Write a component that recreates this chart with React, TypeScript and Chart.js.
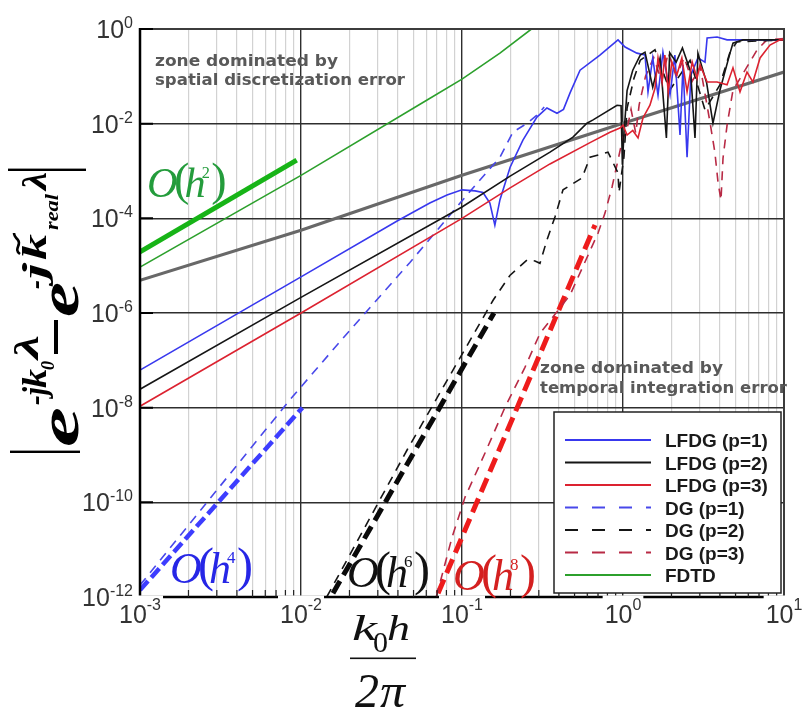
import React, { useEffect, useRef } from 'react';
import { Chart, registerables } from 'chart.js';

Chart.register(...registerables);

// Normalised frequency k0h/2π (x) and phase-error magnitude (y) for each scheme.
const lfdg1X = [0.001, 0.01, 0.0398, 0.0631, 0.0807, 0.1, 0.1205, 0.135, 0.149, 0.16, 0.172, 0.199, 0.239, 0.292, 0.337, 0.389, 0.427, 0.469, 0.541, 0.719, 0.931, 1.03, 1.22, 1.37, 1.43, 1.53, 1.65, 1.77, 1.96, 2.1, 2.26, 2.36, 2.5, 2.64, 2.92, 3.23, 3.33, 3.84, 4.43, 10];
const lfdg1Y = [6.2e-8, 5.8e-6, 8.9e-5, 2.1e-4, 3.1e-4, 4.0e-4, 3.8e-4, 3.5e-4, 2.1e-4, 7.2e-5, 2.45e-4, 1.2e-3, 4.5e-3, 0.0138, 0.0214, 0.0166, 0.02, 0.0447, 0.135, 0.282, 0.589, 0.417, 0.309, 0.282, 0.047, 0.245, 0.04, 0.324, 0.041, 0.282, 5.8e-3, 0.174, 1.95e-3, 0.107, 0.245, 0.2, 0.646, 0.676, 0.589, 0.589];

const lfdg2X = [0.001, 0.01, 0.1, 0.199, 0.352, 0.489, 0.597, 0.652, 0.918, 0.973, 0.991, 1.014, 1.06, 1.15, 1.28, 1.37, 1.53, 1.7, 1.86, 1.95, 2.14, 2.34, 2.63, 2.8, 2.92, 3.31, 3.62, 4.0, 4.62, 4.82, 5.56, 10];
const lfdg2Y = [2.45e-8, 2.14e-6, 1.74e-4, 7.8e-4, 2.5e-3, 5.2e-3, 0.0102, 0.012, 0.0245, 0.024, 1.35e-3, 6.3e-3, 0.05, 0.135, 0.282, 0.324, 0.059, 0.245, 5.0e-3, 0.316, 0.2, 0.398, 0.126, 5.0e-3, 0.309, 0.072, 0.0102, 0.051, 0.309, 0.5, 0.589, 0.589];

const lfdg3X = [0.001, 0.01, 0.1, 0.199, 0.352, 0.624, 0.83, 0.957, 1.0, 1.06, 1.15, 1.24, 1.33, 1.47, 1.58, 1.65, 1.75, 1.82, 1.91, 2.01, 2.16, 2.32, 2.5, 2.69, 2.88, 3.01, 3.33, 3.84, 4.43, 4.82, 5.33, 5.89, 6.41, 7.1, 8.18, 9.44, 10];
const lfdg3Y = [1.07e-8, 1.0e-6, 1.0e-4, 4.4e-4, 1.41e-3, 3.98e-3, 6.6e-3, 8.1e-3, 9.3e-3, 5.75e-3, 7.2e-3, 5.0e-3, 0.0132, 0.0245, 0.056, 0.245, 0.076, 0.282, 0.047, 0.2, 0.107, 0.245, 0.047, 0.2, 0.091, 0.174, 0.076, 0.076, 0.066, 0.151, 0.047, 0.123, 0.076, 0.245, 0.457, 0.589, 0.589];

const dg1X = [0.001, 0.00851, 0.01824, 0.0475, 0.0973, 0.124, 0.172, 0.207, 0.254, 0.292, 0.324];
const dg1Y = [1.78e-12, 1.45e-8, 2.95e-7, 1.17e-5, 2.1e-4, 5.5e-4, 1.95e-3, 6.6e-3, 0.0102, 0.0151, 0.0224];

const dg2X = [0.01445, 0.0455, 0.156, 0.199, 0.254, 0.284, 0.305, 0.337, 0.378, 0.424, 0.556, 0.624, 0.807, 0.931, 0.944, 1.014, 1.06, 1.17, 1.28, 1.58, 1.95, 2.61, 3.23, 4.0, 4.62, 5.1, 10];
const dg2Y = [1.0e-12, 1.26e-9, 1.86e-6, 6.3e-6, 1.32e-5, 1.26e-5, 1.12e-5, 3.5e-5, 1.07e-4, 4.0e-4, 7.1e-4, 1.95e-3, 2.5e-3, 9.1e-4, 3.5e-4, 2.0e-3, 0.0214, 0.091, 0.219, 0.363, 0.051, 0.219, 0.0195, 0.066, 0.324, 0.537, 0.589];

const dg3X = [0.0692, 0.0867, 0.1045, 0.139, 0.185, 0.246, 0.305, 0.469, 0.7, 0.773, 0.855, 0.931, 1.0, 1.047, 1.122, 1.2, 1.26, 1.38, 1.55, 1.74, 1.91, 2.14, 2.4, 2.69, 3.02, 3.47, 3.72, 3.89, 4.06, 4.18, 4.43, 4.82, 5.89, 6.81, 7.83, 10];
const dg3Y = [1.0e-12, 1.82e-11, 1.29e-10, 1.1e-9, 1.02e-8, 7.1e-8, 3.7e-7, 2.4e-6, 4.9e-5, 1.29e-4, 4.6e-4, 1.7e-3, 5.2e-3, 6.3e-3, 0.02, 6.3e-3, 0.025, 0.1, 0.25, 0.079, 0.316, 0.1, 0.25, 0.079, 0.158, 0.0107, 2.5e-3, 5.9e-4, 2.4e-4, 1.86e-3, 9.3e-3, 0.051, 0.158, 0.363, 0.589, 0.63];

const fdtdX = [0.001, 0.01, 0.0607, 0.1, 0.172, 0.27, 0.32];
const fdtdY = [9.3e-6, 8.1e-4, 0.0316, 0.087, 0.31, 1.0, 1.5];

// Boundary between the spatial and temporal error zones.
const boundaryX = [0.001, 0.01, 0.1, 1, 10];
const boundaryY = [4.9e-6, 5.6e-5, 8.1e-4, 1.02e-2, 0.123];

// Convergence-order guide lines.
const h2X = [0.001, 0.0094];
const h2Y = [1.95e-5, 1.7e-3];
const h4X = [0.001, 0.0102];
const h4Y = [1.4e-12, 1.0e-8];
const h6X = [0.0158, 0.158];
const h6Y = [1.2e-12, 1.0e-6];
const h8X = [0.071, 0.67];
const h8Y = [1.2e-12, 7.2e-5];

// Axis decades (exponents) and minor multipliers.
const X_DECADES = [-3, -2, -1, 0, 1];
const Y_DECADES = [-12, -10, -8, -6, -4, -2, 0];
const MINOR_STEPS = [2, 3, 4, 5, 6, 7, 8, 9];

const LEGEND_ORDER = ['LFDG (p=1)', 'LFDG (p=2)', 'LFDG (p=3)', 'DG (p=1)', 'DG (p=2)', 'DG (p=3)', 'FDTD'];

const SANS = '"Liberation Sans", Arial, sans-serif';
const SERIF = '"Liberation Serif", "Times New Roman", serif';
const ZONE_FONT = 'bold 15px "DejaVu Sans", sans-serif';

const pts = (xs: number[], ys: number[]) => xs.map((x, i) => ({ x, y: ys[i] }));

const isDecade = (v: number) => {
  const l = Math.log10(v);
  return Math.abs(l - Math.round(l)) < 1e-6;
};

function fitText(ctx: CanvasRenderingContext2D, text: string, x: number, y: number, w: number, font: string) {
  ctx.font = font;
  const m = ctx.measureText(text).width || 1;
  ctx.save();
  ctx.translate(x, y);
  ctx.scale(w / m, 1);
  ctx.fillText(text, 0, 0);
  ctx.restore();
}

function orderLabel(ctx: CanvasRenderingContext2D, x: number, base: number, exp: string, color: string, s: number) {
  ctx.save();
  ctx.translate(x, base);
  ctx.scale(s, s);
  ctx.fillStyle = color;
  ctx.textAlign = 'left';
  ctx.font = `italic 44px ${SERIF}`;
  ctx.fillText('O', 0, 0);
  ctx.font = `48px ${SERIF}`;
  ctx.fillText('(', 28, -2);
  ctx.font = `italic 44px ${SERIF}`;
  ctx.fillText('h', 39, 0);
  ctx.font = `17px ${SERIF}`;
  ctx.fillText(exp, 57, -20);
  ctx.font = `48px ${SERIF}`;
  ctx.fillText(')', 67, -2);
  ctx.restore();
}

const overlay = {
  id: 'overlay',
  afterDraw(chart: any) {
    const ctx: CanvasRenderingContext2D = chart.ctx;
    const xs = chart.scales.x;
    const ys = chart.scales.y;
    const { left: L, right: R, top: T, bottom: B } = chart.chartArea;
    ctx.save();

    // frame
    ctx.strokeStyle = '#3c3c3c';
    ctx.lineWidth = 2;
    ctx.beginPath();
    ctx.moveTo(L, T);
    ctx.lineTo(R, T);
    ctx.lineTo(R, B);
    ctx.stroke();
    ctx.strokeStyle = '#000';
    ctx.lineWidth = 2.5;
    ctx.beginPath();
    ctx.moveTo(L, T - 1);
    ctx.lineTo(L, B);
    ctx.lineTo(R, B);
    ctx.stroke();

    // minor ticks on the bottom axis
    ctx.lineWidth = 1.2;
    ctx.strokeStyle = '#222';
    ctx.beginPath();
    for (const e of X_DECADES.slice(0, -1)) {
      for (const m of MINOR_STEPS) {
        const px = xs.getPixelForValue(m * Math.pow(10, e));
        ctx.moveTo(px, B);
        ctx.lineTo(px, B - 7);
      }
    }
    ctx.stroke();

    // major ticks on the left axis
    ctx.lineWidth = 2;
    ctx.strokeStyle = '#000';
    ctx.beginPath();
    for (const e of Y_DECADES) {
      const py = ys.getPixelForValue(Math.pow(10, e));
      ctx.moveTo(L, py);
      ctx.lineTo(L + 13, py);
    }
    ctx.stroke();

    // x tick labels
    ctx.textAlign = 'left';
    ctx.textBaseline = 'alphabetic';
    for (const e of X_DECADES) {
      const px = xs.getPixelForValue(Math.pow(10, e));
      const ex = e < 0 ? '-' + -e : String(e);
      ctx.font = `25px ${SANS}`;
      const wb = ctx.measureText('10').width;
      ctx.font = `16px ${SANS}`;
      const we = ctx.measureText(ex).width;
      const x0 = px - (wb + we) / 2;
      ctx.fillStyle = '#fff';
      ctx.fillRect(x0 - 2, B - 1.5, wb + we + 4, 32);
      ctx.fillStyle = '#333';
      ctx.font = `25px ${SANS}`;
      ctx.fillText('10', x0, 623);
      ctx.font = `16px ${SANS}`;
      ctx.fillText(ex, x0 + wb, 610);
    }

    // y tick labels
    for (const e of Y_DECADES) {
      const py = ys.getPixelForValue(Math.pow(10, e));
      const ex = e < 0 ? '-' + -e : String(e);
      ctx.font = `16px ${SANS}`;
      const we = ctx.measureText(ex).width;
      ctx.font = `25px ${SANS}`;
      const wb = ctx.measureText('10').width;
      const xr = 133;
      ctx.fillStyle = '#333';
      ctx.fillText('10', xr - we - wb, py + 9);
      ctx.font = `16px ${SANS}`;
      ctx.fillText(ex, xr - we, py - 1);
    }

    // zone annotations
    ctx.fillStyle = '#595959';
    fitText(ctx, 'zone dominated by', 155, 66, 183, ZONE_FONT);
    fitText(ctx, 'spatial discretization error', 155, 85, 250, ZONE_FONT);
    fitText(ctx, 'zone dominated by', 540, 373, 183, ZONE_FONT);
    fitText(ctx, 'temporal integration error', 540, 393, 247, ZONE_FONT);

    // order labels
    orderLabel(ctx, 147, 197, '2', '#249c3c', 0.96);
    orderLabel(ctx, 170, 583, '4', '#2626e6', 1);
    orderLabel(ctx, 347, 587, '6', '#111', 1);
    orderLabel(ctx, 453, 590, '8', '#d42020', 1);

    // legend
    const bx = 554, by = 412, bw = 227, bh = 181;
    ctx.fillStyle = '#fff';
    ctx.fillRect(bx, by, bw, bh);
    ctx.strokeStyle = '#222';
    ctx.lineWidth = 1.5;
    ctx.strokeRect(bx, by, bw, bh);
    LEGEND_ORDER.forEach((label, i) => {
      const ds = chart.data.datasets.find((d: any) => d.label === label);
      if (!ds) return;
      const y = 440 + i * 22.5;
      ctx.strokeStyle = ds.borderColor;
      ctx.lineWidth = 2.2;
      ctx.setLineDash(ds.borderDash && ds.borderDash.length ? [13, 14] : []);
      ctx.beginPath();
      ctx.moveTo(565, y);
      ctx.lineTo(651, y);
      ctx.stroke();
      ctx.setLineDash([]);
      ctx.fillStyle = '#1a1a1a';
      ctx.font = `bold 19px ${SANS}`;
      ctx.fillText(label, 665, y + 7);
    });

    // y axis title |e^{-jk0λ} − e^{-jk̃_real λ}|
    ctx.save();
    ctx.translate(78, 452);
    ctx.rotate(-Math.PI / 2);
    ctx.fillStyle = '#000';
    const big = `bold italic 56px ${SERIF}`;
    const sup = `bold italic 33px ${SERIF}`;
    const sub = `bold italic 19px ${SERIF}`;
    ctx.fillRect(-1, -68, 2.4, 70);
    fitText(ctx, 'e', 5, 0, 40, big);
    fitText(ctx, '-j', 47, -32, 18, sup);
    fitText(ctx, 'k', 64, -32, 19, sup);
    fitText(ctx, '0', 82, -24, 9, sub);
    fitText(ctx, 'λ', 93, -40, 24, sup);
    ctx.fillRect(98, -24, 34, 4);
    fitText(ctx, 'e', 135, 0, 35, big);
    fitText(ctx, '-', 163, -32, 9, sup);
    fitText(ctx, 'j', 173, -32, 16, sup);
    fitText(ctx, 'k', 192, -32, 26, sup);
    ctx.lineWidth = 2.6;
    ctx.strokeStyle = '#000';
    ctx.beginPath();
    ctx.moveTo(198, -58);
    ctx.bezierCurveTo(203, -65, 207, -56, 212, -60);
    ctx.bezierCurveTo(215, -63, 217, -64, 219, -64);
    ctx.stroke();
    fitText(ctx, 'real', 222, -20, 36, sub);
    fitText(ctx, 'λ', 262, -32, 18, sup);
    ctx.fillRect(281, -70, 2.4, 78);
    ctx.restore();

    // x axis title k0h / 2π
    ctx.fillStyle = '#111';
    fitText(ctx, 'k', 352, 640, 25, `italic 36px ${SERIF}`);
    fitText(ctx, '0', 373, 652, 15, `30px ${SERIF}`);
    fitText(ctx, 'h', 387, 640, 23, `italic 36px ${SERIF}`);
    ctx.fillRect(350, 657.5, 66, 1.6);
    fitText(ctx, '2', 355, 707, 24, `italic 48px ${SERIF}`);
    fitText(ctx, 'π', 380, 707, 25, `italic 48px ${SERIF}`);

    ctx.restore();
  },
};

const THIN_DASH = [9, 7];

export default function App() {
  const canvasRef = useRef<HTMLCanvasElement | null>(null);

  useEffect(() => {
    const canvas = canvasRef.current;
    if (!canvas) return;

    const base = { pointRadius: 0, tension: 0, fill: false };
    const datasets: any[] = [
      { ...base, label: 'LFDG (p=3)', data: pts(lfdg3X, lfdg3Y), borderColor: '#dc2230', borderWidth: 1.6 },
      { ...base, label: 'LFDG (p=2)', data: pts(lfdg2X, lfdg2Y), borderColor: '#151515', borderWidth: 1.6 },
      { ...base, label: 'LFDG (p=1)', data: pts(lfdg1X, lfdg1Y), borderColor: '#3838ee', borderWidth: 1.6 },
      { ...base, label: 'DG (p=1)', data: pts(dg1X, dg1Y), borderColor: '#4848ea', borderWidth: 1.6, borderDash: THIN_DASH },
      { ...base, label: 'DG (p=2)', data: pts(dg2X, dg2Y), borderColor: '#151515', borderWidth: 1.6, borderDash: THIN_DASH },
      { ...base, label: 'DG (p=3)', data: pts(dg3X, dg3Y), borderColor: '#b82a45', borderWidth: 1.6, borderDash: THIN_DASH },
      { ...base, label: 'O(h^4)', data: pts(h4X, h4Y), borderColor: '#3d3dff', borderWidth: 4.5, borderDash: [12, 5] },
      { ...base, label: 'O(h^6)', data: pts(h6X, h6Y), borderColor: '#0a0a0a', borderWidth: 5, borderDash: [14, 7] },
      { ...base, label: 'O(h^8)', data: pts(h8X, h8Y), borderColor: '#ee1c1c', borderWidth: 5, borderDash: [15, 7] },
      { ...base, label: 'FDTD', data: pts(fdtdX, fdtdY), borderColor: '#2ca02c', borderWidth: 1.6 },
      { ...base, label: 'O(h^2)', data: pts(h2X, h2Y), borderColor: '#17b417', borderWidth: 5 },
      { ...base, label: 'boundary', data: pts(boundaryX, boundaryY), borderColor: '#686868', borderWidth: 3.2 },
    ];

    const xTicks: number[] = [];
    X_DECADES.forEach((e, i) => {
      xTicks.push(Math.pow(10, e));
      if (i < X_DECADES.length - 1) MINOR_STEPS.forEach((m) => xTicks.push(m * Math.pow(10, e)));
    });
    const yTicks = Y_DECADES.map((e) => Math.pow(10, e));

    const chart = new Chart(canvas, {
      type: 'line',
      data: { datasets },
      options: {
        animation: false,
        responsive: false,
        devicePixelRatio: 1,
        layout: { padding: { left: 140, top: 29, right: 20, bottom: 113 } },
        plugins: { legend: { display: false }, tooltip: { enabled: false } },
        scales: {
          x: {
            type: 'logarithmic',
            min: 1e-3,
            max: 10,
            afterBuildTicks: (s: any) => {
              s.ticks = xTicks.map((value) => ({ value }));
            },
            ticks: { display: false },
            border: { display: false },
            grid: {
              drawTicks: false,
              color: (c: any) => (c.tick && isDecade(c.tick.value) ? '#2e2e2e' : '#d2d2d2'),
              lineWidth: (c: any) => (c.tick && isDecade(c.tick.value) ? 1.4 : 1.2),
            },
          },
          y: {
            type: 'logarithmic',
            min: 1e-12,
            max: 1,
            afterBuildTicks: (s: any) => {
              s.ticks = yTicks.map((value) => ({ value }));
            },
            ticks: { display: false },
            border: { display: false },
            grid: { drawTicks: false, color: '#2e2e2e', lineWidth: 1.4 },
          },
        },
      } as any,
      plugins: [overlay],
    });

    return () => chart.destroy();
  }, []);

  return (
    <div style={{ position: 'absolute', left: 0, top: 0, width: 804, height: 710, background: '#fff' }}>
      <canvas ref={canvasRef} width={804} height={710} style={{ display: 'block' }} />
    </div>
  );
}
